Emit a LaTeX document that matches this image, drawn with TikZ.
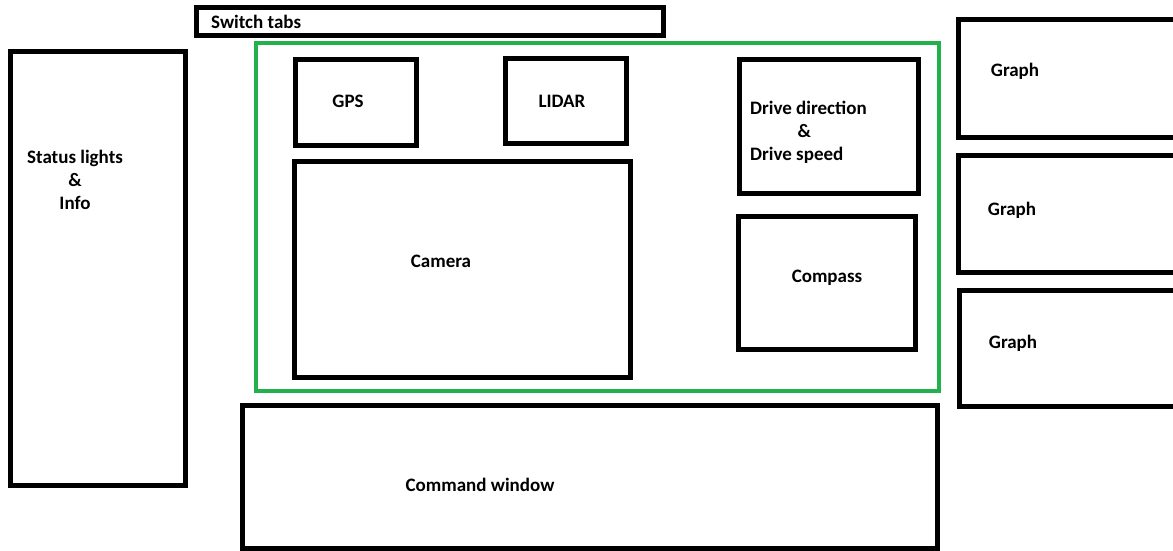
\documentclass[tikz,border=0pt]{standalone}
\usepackage{fontspec}
\setmainfont{Carlito}
\definecolor{paintgreen}{RGB}{34,177,76}
\begin{document}
\begin{tikzpicture}[x=1pt, y=-1pt,
  panel/.style={draw, line width=5pt, inner sep=0pt},
  groupbox/.style={draw=paintgreen, line width=4pt, inner sep=0pt},
  lbl/.style={inner sep=0pt, font=\fontsize{19}{23}\selectfont\bfseries, align=center},
]
  % Frame
  \clip (0,0) rectangle (1173,551);
  \fill[white] (0,0) rectangle (1173,551);

  % Left column and tabs
  \node[panel, minimum width=467.5, minimum height=28] (tabs) at (429.75,21.5) {};
  \node[panel, minimum width=175, minimum height=434] (status) at (98,268.75) {};

  % Sensor group
  \node[groupbox, minimum width=683.5, minimum height=347] (sensors) at (597.25,217) {};
  \node[panel, minimum width=120.5, minimum height=85.5] (gps) at (355.75,102.25) {};
  \node[panel, minimum width=121, minimum height=84.5] (lidar) at (565.5,101.25) {};
  \node[panel, minimum width=179, minimum height=133] (drive) at (828.5,126.5) {};
  \node[panel, minimum width=177.5, minimum height=133.5] (compass) at (826.75,282.75) {};
  \node[panel, minimum width=335.5, minimum height=216] (camera) at (462.25,269) {};

  % Command window
  \node[panel, minimum width=695, minimum height=142.5] (cmd) at (589.5,476.75) {};

  % Graphs (cut off at the right edge)
  \node[panel, minimum width=240, minimum height=117.5] (graphA) at (1078.5,78.75) {};
  \node[panel, minimum width=240, minimum height=117] (graphB) at (1078.5,213.5) {};
  \node[panel, minimum width=240, minimum height=116.5] (graphC) at (1079.5,348.25) {};

  % Labels
  \node[lbl, anchor=west] (tabsText) at (211,22) {Switch tabs};
  \node[lbl] (statusText) at (75,180) {Status lights\\\&\\Info};
  \node[lbl] (gpsText) at (348,101) {GPS};
  \node[lbl] (lidarText) at (562,101) {LIDAR};
  \node[lbl, align=left, anchor=west] (driveText) at (750,132) {Drive direction\\\hspace*{2.5em}\&\\Drive speed};
  \node[lbl] (compassText) at (827,278) {Compass};
  \node[lbl] (cameraText) at (441,261) {Camera};
  \node[lbl] (cmdText) at (480,485) {Command window};
  \node[lbl] (graphAText) at (1015,71) {Graph};
  \node[lbl] (graphBText) at (1012,210) {Graph};
  \node[lbl] (graphCText) at (1013,343) {Graph};
\end{tikzpicture}
\end{document}
